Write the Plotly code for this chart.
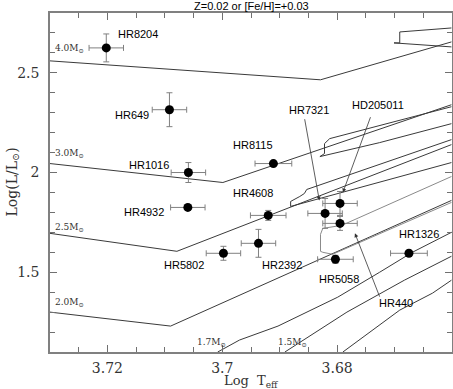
import plotly.graph_objects as go

# evolutionary tracks (log Teff, log L/Lsun)
track_40_x = [3.7300, 3.6829, 3.6601]
track_40_y = [2.560, 2.465, 2.655]
loop_40_x = [3.6601, 3.6691, 3.6691, 3.6701, 3.6601]
loop_40_y = [2.725, 2.705, 2.650, 2.650, 2.630]

track_30_x = [3.7300, 3.6999, 3.6601]
track_30_y = [2.045, 1.950, 2.340]
loop_30_x = [3.6601, 3.6796, 3.6813, 3.6822, 3.6822, 3.6830, 3.6726, 3.6601]
loop_30_y = [2.330, 2.185, 2.170, 2.145, 2.095, 2.080, 2.150, 2.245]

track_25_x = [3.7300, 3.7079, 3.6601]
track_25_y = [1.695, 1.605, 2.140]
loop_25_x = [3.6601, 3.6825, 3.6853, 3.6857, 3.6865, 3.6881, 3.6881, 3.6601]
loop_25_y = [2.165, 1.945, 1.915, 1.895, 1.880, 1.855, 1.830, 2.050]

track_20_x = [3.7300, 3.7090, 3.6601]
track_20_y = [1.300, 1.230, 1.860]
loop_20_x = [3.6601, 3.6726, 3.6792, 3.6825, 3.6829, 3.6829, 3.6825, 3.6808, 3.6601]
loop_20_y = [1.980, 1.820, 1.735, 1.720, 1.690, 1.605, 1.600, 1.590, 1.850]

track_17_x = [3.7008, 3.6970, 3.6903, 3.6799, 3.6726, 3.6669, 3.6601]
track_17_y = [1.100, 1.160, 1.230, 1.375, 1.500, 1.600, 1.700]

track_15_x = [3.6891, 3.6783, 3.6683, 3.6601]
track_15_y = [1.100, 1.300, 1.460, 1.580]

track_13_x = [3.6790, 3.6691, 3.6634, 3.6601]
track_13_y = [1.100, 1.310, 1.395, 1.460]

tracks = [
    (track_40_x, track_40_y), (loop_40_x, loop_40_y),
    (track_30_x, track_30_y), (loop_30_x, loop_30_y),
    (track_25_x, track_25_y), (loop_25_x, loop_25_y),
    (track_20_x, track_20_y), (loop_20_x, loop_20_y),
    (track_17_x, track_17_y), (track_15_x, track_15_y), (track_13_x, track_13_y),
]

mass_labels = ["4.0", "3.0", "2.5", "2.0", "1.7", "1.5"]
mass_x = [3.7295, 3.7295, 3.7295, 3.7295, 3.7019, 3.6878]
mass_y = [2.620, 2.095, 1.725, 1.350, 1.150, 1.150]

# stars
stars = ["HR8204", "HR649", "HR8115", "HR1016", "HR4932", "HR4608", "HR2392",
         "HR5802", "HR7321", "HD205011", "HR440", "HR5058", "HR1326"]
logteff = [3.7202, 3.7092, 3.6911, 3.7059, 3.7060, 3.6920, 3.6937,
           3.6998, 3.6821, 3.6795, 3.6795, 3.6803, 3.6675]
logl = [2.625, 2.315, 2.045, 2.000, 1.825, 1.785, 1.645,
        1.595, 1.795, 1.845, 1.745, 1.565, 1.595]
err_teff = [0.003, 0.003, 0.0032, 0.003, 0.003, 0.0031, 0.003,
            0.003, 0.003, 0.003, 0.003, 0.0031, 0.0032]
err_l = [0.07, 0.085, 0.0, 0.05, 0.01, 0.025, 0.07,
         0.035, 0.075, 0.06, 0.035, 0.02, 0.0]

label_x = [3.7146, 3.7157, 3.6946, 3.7127, 3.7136, 3.6946, 3.6896,
           3.7066, 3.6849, 3.6729, 3.6697, 3.6797, 3.6657]
label_y = [2.695, 2.290, 2.140, 2.040, 1.800, 1.895, 1.535,
           1.535, 2.315, 2.340, 1.345, 1.465, 1.690]

# arrows: label -> star (tail, tip)
arrow_names = ["HR7321", "HD205011", "HR440"]
arrow_tail_x = [3.6857, 3.6741, 3.6725]
arrow_tail_y = [2.275, 2.285, 1.370]
arrow_tip_x = [3.6831, 3.6790, 3.6769]
arrow_tip_y = [1.860, 1.900, 1.695]

fig = go.Figure()

for i, (tx, ty) in enumerate(tracks):
    # the 2.0 Msun clump loop is drawn lighter in the original
    col = "#8a8a8a" if i == 7 else "#3a3a3a"
    fig.add_trace(go.Scatter(x=tx, y=ty, mode="lines",
                             line=dict(color=col, width=1), hoverinfo="skip"))

fig.add_trace(go.Scatter(
    x=logteff, y=logl, mode="markers",
    marker=dict(color="black", size=9),
    error_x=dict(type="data", array=err_teff, color="#808080", thickness=1, width=3),
    error_y=dict(type="data", array=err_l, color="#808080", thickness=1, width=3),
    text=stars,
))

for name, lx, ly in zip(stars, label_x, label_y):
    fig.add_annotation(x=lx, y=ly, text=name, showarrow=False,
                       font=dict(family="Liberation Sans", size=11, color="black"))

for name, x0, y0, x1, y1 in zip(arrow_names, arrow_tail_x, arrow_tail_y, arrow_tip_x, arrow_tip_y):
    fig.add_annotation(x=x1, y=y1, ax=x0, ay=y0, axref="x", ayref="y", text="",
                       showarrow=True, arrowhead=2, arrowsize=1, arrowwidth=0.8,
                       arrowcolor="#333333")

for i, (m, mx, my) in enumerate(zip(mass_labels, mass_x, mass_y)):
    fig.add_annotation(x=mx, y=my, text=f"{m}M<sub>⊙</sub>", showarrow=False,
                       xanchor="left" if i < 4 else "center",
                       font=dict(family="DejaVu Serif", size=9, color="#333"))

# title and axis titles
fig.add_annotation(x=0.5, y=1, xref="paper", yref="paper", yshift=7, yanchor="middle",
                   text="Z=0.02 or [Fe/H]=+0.03", showarrow=False,
                   font=dict(family="Liberation Sans", size=11, color="black"))
fig.add_annotation(x=0.5, y=0, xref="paper", yref="paper", yshift=-29, yanchor="middle",
                   text="Log  T<sub>eff</sub>", showarrow=False,
                   font=dict(family="DejaVu Serif", size=13, color="#333"))
fig.add_annotation(x=0, y=0.5, xref="paper", yref="paper", xshift=-38, xanchor="center",
                   text="Log(L/L<sub>⊙</sub>)", showarrow=False, textangle=-90,
                   font=dict(family="DejaVu Serif", size=14, color="#333"))

axis_style = dict(showline=True, linecolor="#808080", linewidth=1.5, mirror="allticks",
                  ticks="inside", ticklen=7, tickwidth=1, tickcolor="#707070",
                  showgrid=False, zeroline=False, automargin=False,
                  tickfont=dict(family="DejaVu Serif", size=14, color="#333"))

fig.update_xaxes(range=[3.73, 3.66], tickmode="array", tickvals=[3.72, 3.70, 3.68],
                 ticktext=["3.72", "3.7", "3.68"], ticklabelstandoff=2,
                 minor=dict(dtick=0.005, tick0=3.66, ticks="inside", ticklen=5,
                            tickwidth=1, tickcolor="#707070", showgrid=False),
                 **axis_style)
fig.update_yaxes(range=[1.1, 2.8], tickmode="array", tickvals=[1.5, 2.0, 2.5],
                 ticktext=["1.5", "2", "2.5"], ticklabelstandoff=6,
                 minor=dict(dtick=0.1, tick0=1.1, ticks="inside", ticklen=5,
                            tickwidth=1, tickcolor="#707070", showgrid=False),
                 **axis_style)

fig.update_layout(template="none", width=453, height=389, showlegend=False,
                  margin=dict(l=50, r=1, t=13, b=37),
                  plot_bgcolor="white", paper_bgcolor="white")

# the page body has a default 8px margin; drop it so the figure sits at the corner
fig.write_html("out.html", config={"displayModeBar": False},
               post_script="document.body.style.margin='0';")
